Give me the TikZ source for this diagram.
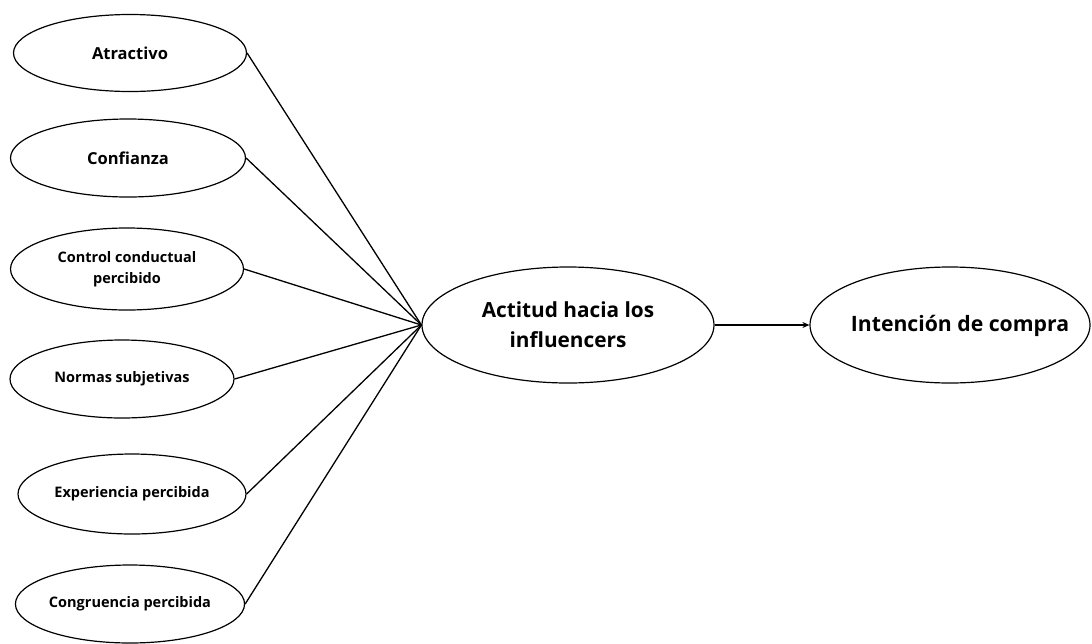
\documentclass[tikz,border=0pt]{standalone}
\usepackage{fontspec}
\setmainfont{Open Sans}
\usetikzlibrary{shapes.geometric,arrows.meta}
\begin{document}
\begin{tikzpicture}[x=1pt,y=-1pt,
  oval/.style={draw=black,line width=1.2pt,ellipse,inner sep=0pt,align=center,font=\bfseries},
  link/.style={draw=black,line width=1.3pt}]
\useasboundingbox (0,0) rectangle (1092,643);
% factor ellipses
\node[oval,minimum width=233pt,minimum height=77pt,font=\bfseries\fontsize{16.5}{20}\selectfont] (atr) at (130,53) {Atractivo};
\node[oval,minimum width=235pt,minimum height=78pt,font=\bfseries\fontsize{16.5}{20}\selectfont] (con) at (128,158) {Confianza};
\node[oval,minimum width=233pt,minimum height=82pt,font=\bfseries\fontsize{14.5}{21}\selectfont] (ctl) at (127,269) {Control conductual\\percibido};
\node[oval,minimum width=224pt,minimum height=78pt,font=\bfseries\fontsize{14.5}{20}\selectfont] (nor) at (122,379) {Normas subjetivas};
\node[oval,minimum width=228pt,minimum height=80pt,font=\bfseries\fontsize{14.5}{20}\selectfont] (exp) at (132,494) {Experiencia percibida};
\node[oval,minimum width=226pt,minimum height=78pt,font=\bfseries\fontsize{14.5}{20}\selectfont] (cgr) at (130,604) {Congruencia percibida};
% central constructs
\node[oval,minimum width=292pt,minimum height=116pt,font=\bfseries\fontsize{20.8}{30}\selectfont] (act) at (568,325) {Actitud hacia los\\influencers};
\node[oval,minimum width=280pt,minimum height=116pt] (int) at (950,325) {};
\node[font=\bfseries\fontsize{21.2}{30}\selectfont,inner sep=0pt] (intlbl) at ([xshift=10pt,yshift=-1pt]int.center) {Intención de compra};
% connectors
\foreach \n in {atr,con,ctl,nor,exp,cgr}
  \draw[link] (\n.east) -- (act.west);
\draw[link,-{Stealth[length=7pt,width=6pt]}] (act.east) -- (int.west);
\end{tikzpicture}
\end{document}
